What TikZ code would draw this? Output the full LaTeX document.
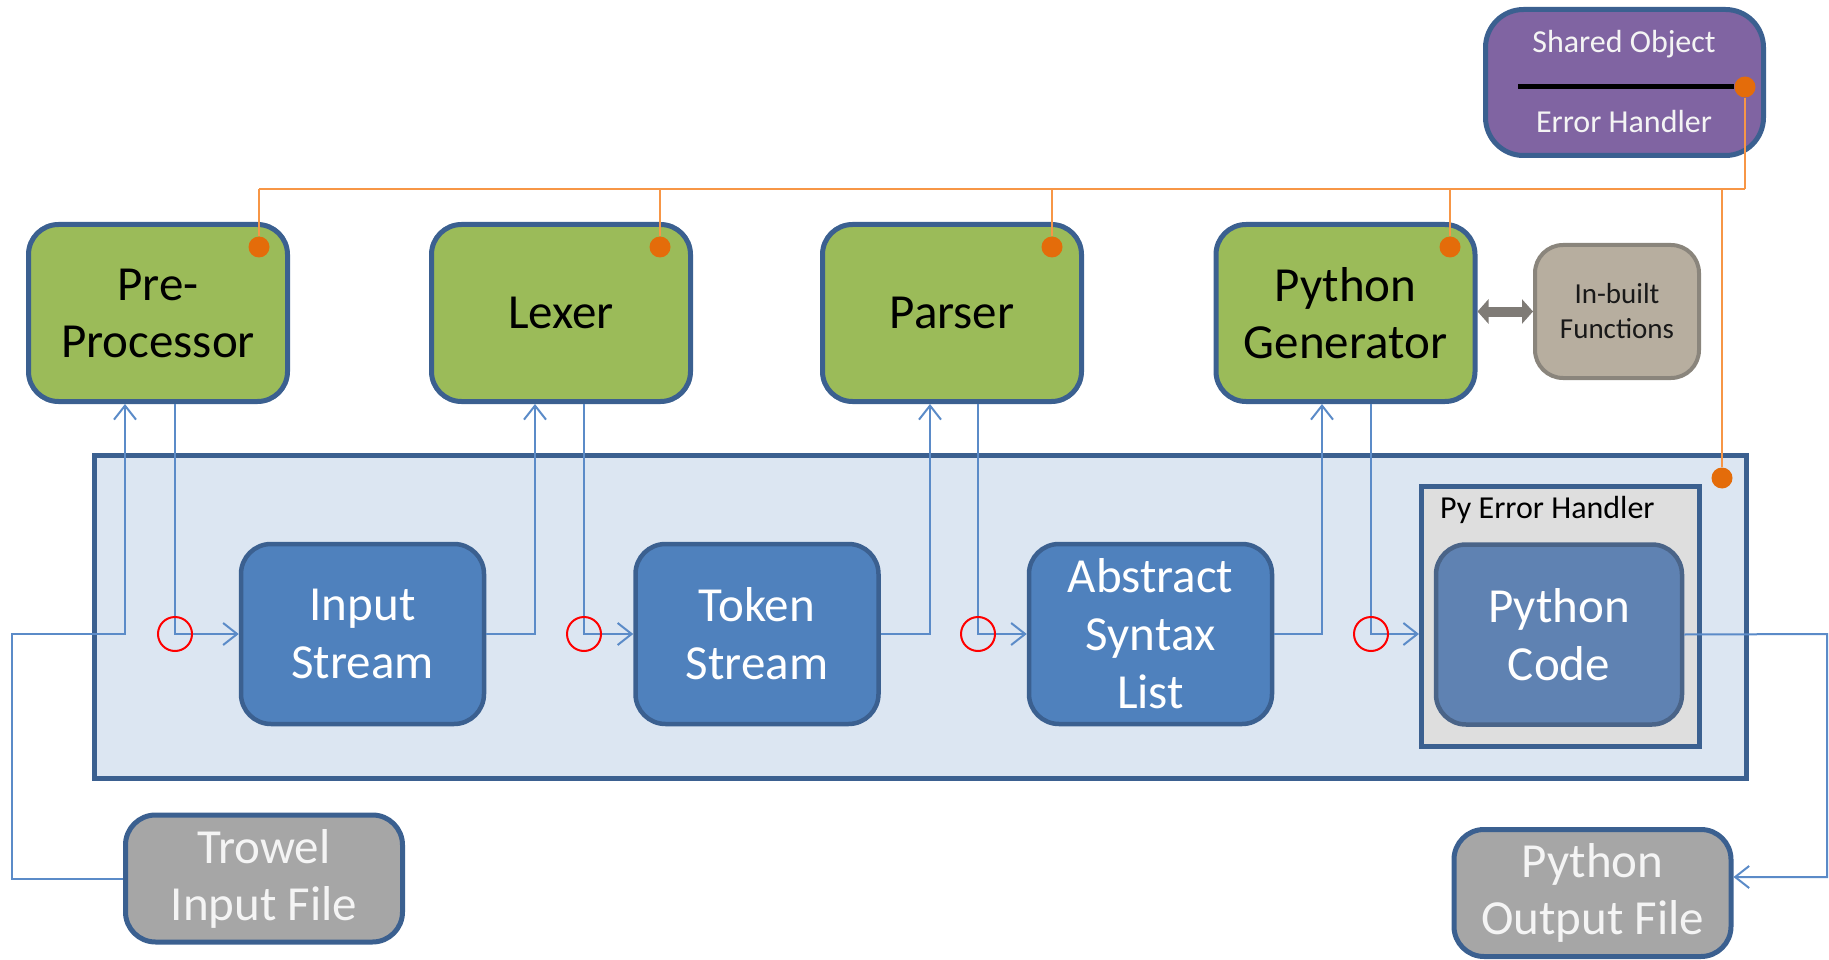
\documentclass[tikz,border=0pt]{standalone}
\usepackage{fontspec}
\setmainfont{Carlito}
\usetikzlibrary{arrows.meta}
\definecolor{grn}{HTML}{9BBB59}
\definecolor{blu}{HTML}{4F81BD}
\definecolor{bdr}{HTML}{3B6090}
\definecolor{mainfill}{HTML}{DCE6F2}
\definecolor{codefill}{HTML}{5F82B2}
\definecolor{codebdr}{HTML}{4A6488}
\definecolor{errfill}{HTML}{DEDEDE}
\definecolor{purp}{HTML}{8064A2}
\definecolor{gryfill}{HTML}{A6A6A6}
\definecolor{inbfill}{HTML}{B7AE9F}
\definecolor{inbbdr}{HTML}{8A857C}
\definecolor{dotor}{HTML}{E46C0A}
\definecolor{lineor}{HTML}{F79646}
\definecolor{cblue}{HTML}{5B8BC8}
\definecolor{dblgray}{HTML}{7F7B76}
\definecolor{txtw}{HTML}{F4F4F4}
\tikzset{
  box/.style={draw=bdr, line width=5pt, rounded corners=30pt, align=center, inner sep=0pt},
  greenbox/.style={box, fill=grn, minimum width=259pt, minimum height=177pt,
    font=\fontsize{49}{57}\selectfont, text=black},
  bluebox/.style={box, line width=4.5pt, fill=blu, minimum width=243pt, minimum height=180pt,
    font=\fontsize{49}{58}\selectfont, text=white},
  graybox/.style={box, fill=gryfill, minimum width=277pt, minimum height=127pt,
    font=\fontsize{49}{57}\selectfont, text=txtw},
  flow/.style={draw=cblue, line width=2pt},
  arr/.style={-{Straight Barb[length=14pt,width=22pt]}},
  redc/.style={circle, draw=red, line width=2pt, minimum size=34pt, inner sep=0pt},
  oline/.style={draw=lineor, line width=2.2pt},
  odot/.style={circle, fill=dotor, minimum size=21pt, inner sep=0pt},
  dbl/.style={draw=dblgray, line width=10pt, {Triangle[width=24pt,length=11pt]}-{Triangle[width=24pt,length=11pt]}},
}
\begin{document}
\begin{tikzpicture}[x=1pt,y=-1pt]
\useasboundingbox (0,0) rectangle (1829,960);

% containers
\node[draw=bdr, fill=mainfill, line width=5pt, minimum width=1652pt, minimum height=323pt, inner sep=0pt] (main) at (920.5,617) {};
\node[draw=bdr, fill=errfill, line width=5pt, minimum width=278pt, minimum height=260pt, inner sep=0pt] (err) at (1560.5,616.5) {};
\node[anchor=west, font=\fontsize{32}{38}\selectfont, text=black, inner sep=0pt] (errlbl) at (1440,510) {Py Error Handler};

% blue boxes
\node[bluebox] (in)  at (362.5,634) {Input\\Stream};
\node[bluebox] (tok) at (757,634) {Token\\Stream};
\node[bluebox] (ast) at (1150.5,634) {Abstract\\Syntax\\List};
\node[bluebox, fill=codefill, draw=codebdr, minimum width=246pt] (code) at (1559,634.5) {Python\\Code};

% green boxes
\node[greenbox] (pre) at (158,313) {Pre-\\Processor};
\node[greenbox] (lex) at (561,313) {Lexer};
\node[greenbox] (par) at (952,313) {Parser};
\node[greenbox] (gen) at (1345.5,313) {Python\\Generator};

% in-built functions
\node[box, draw=inbbdr, line width=4pt, fill=inbfill, rounded corners=28pt, minimum width=164pt, minimum height=133pt,
  font=\fontsize{29}{35}\selectfont, text=black!90] (inb) at (1617,311.5) {In-built\\Functions};

% shared object
\node[box, fill=purp, rounded corners=38pt, minimum width=278pt, minimum height=146pt] (so) at (1624.5,82.5) {};
\node[font=\fontsize{32}{38}\selectfont, text=txtw, inner sep=0pt] (solbl) at (1624,44) {Shared Object};
\node[font=\fontsize{32}{38}\selectfont, text=txtw, inner sep=0pt] (ehlbl) at (1624,122) {Error Handler};

% files
\node[graybox] (trow) at (264,878.5) {Trowel\\Input File};
\node[graybox] (out) at (1592.5,893) {Python\\Output File};

% flow coordinates
\coordinate (lc) at (12,634);
\coordinate (pu) at (125,634);
\coordinate (pd) at (175,634);
\coordinate (lu) at (535,634);
\coordinate (ld) at (584,634);
\coordinate (au) at (930,634);
\coordinate (ad) at (978,634);
\coordinate (gu) at (1322,634);
\coordinate (gd) at (1371,634);
\coordinate (rc) at (1827,634);
\coordinate (rb) at (1827,877);

% flow connectors
\draw[flow,arr] (trow.west) -| (lc) -- (pu) -- (pu |- pre.south);
\draw[flow,arr] (pd |- pre.south) -- (pd) -- (in.west);
\draw[flow,arr] (in.east) -- (lu) -- (lu |- lex.south);
\draw[flow,arr] (ld |- lex.south) -- (ld) -- (tok.west);
\draw[flow,arr] (tok.east) -- (au) -- (au |- par.south);
\draw[flow,arr] (ad |- par.south) -- (ad) -- (ast.west);
\draw[flow,arr] (ast.east) -- (gu) -- (gu |- gen.south);
\draw[flow,arr] (gd |- gen.south) -- (gd) -- (gd -| err.west);
\draw[flow,arr] (code.east) -- (rc) -- (rb) -- (rb -| out.east);

% red circles
\node[redc] (r1) at (pd) {};
\node[redc] (r2) at (ld) {};
\node[redc] (r3) at (ad) {};
\node[redc] (r4) at (gd) {};

% double arrow
\draw[dbl] (gen.east |- inb.west) -- (inb.west);

% orange bus
\coordinate (bus) at (0,189);
\node[odot] (dpre) at (259,247) {};
\node[odot] (dlex) at (660,247) {};
\node[odot] (dpar) at (1052,247) {};
\node[odot] (dgen) at (1450,247) {};
\node[odot] (dso) at (1745,87) {};
\node[odot] (dmain) at (1722,478) {};
\coordinate (bl) at (1518,87);
\draw[line width=5pt, black] (bl) -- (dso.west);
\draw[oline] (dpre |- bus) -- (dso |- bus);
\draw[oline] (dpre.north) -- (dpre |- bus);
\draw[oline] (dlex.north) -- (dlex |- bus);
\draw[oline] (dpar.north) -- (dpar |- bus);
\draw[oline] (dgen.north) -- (dgen |- bus);
\draw[oline] (dso.south) -- (dso |- bus);
\draw[oline] (dmain.north) -- (dmain |- bus);
\end{tikzpicture}
\end{document}
